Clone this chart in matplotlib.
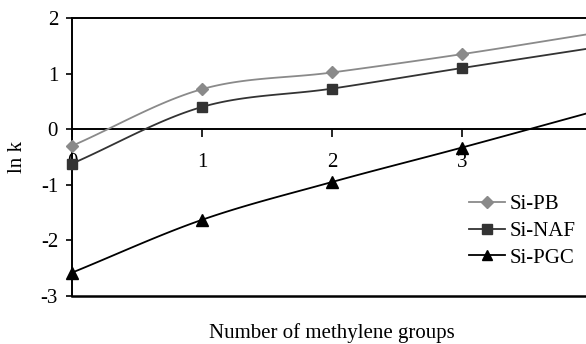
import numpy as np
import matplotlib
matplotlib.use("Agg")
import matplotlib.pyplot as plt
from matplotlib.lines import Line2D

plt.rcParams['font.family'] = ['Liberation Serif', 'DejaVu Serif']

x_groups = [0, 1, 2, 3, 4]
si_pb = [-0.30, 0.72, 1.02, 1.35, 1.72]
si_naf = [-0.62, 0.40, 0.73, 1.10, 1.46]
si_pgc = [-2.58, -1.63, -0.95, -0.33, 0.31]
series_names = ['Si-PB', 'Si-NAF', 'Si-PGC']
y_ticks = [-3, -2, -1, 0, 1, 2]
x_ticks = [0, 1, 2, 3]


def smooth(xs, ys, n=30):
    xs = np.asarray(xs, float)
    ys = np.asarray(ys, float)
    P = np.column_stack([xs, ys])
    P = np.vstack([P[0] - (P[1] - P[0]), P, P[-1] + (P[-1] - P[-2])])
    out = []
    t = np.linspace(0, 1, n)[:, None]
    for i in range(1, len(P) - 2):
        p0, p1, p2, p3 = P[i - 1], P[i], P[i + 1], P[i + 2]
        c1 = p1 + (p2 - p0) / 6
        c2 = p2 - (p3 - p1) / 6
        seg = ((1 - t) ** 3) * p1 + 3 * ((1 - t) ** 2) * t * c1 + 3 * (1 - t) * t ** 2 * c2 + t ** 3 * p2
        out.append(seg if i == 1 else seg[1:])
    out = np.vstack(out)
    return out[:, 0], out[:, 1]


W, H = 586, 344
fig = plt.figure(figsize=(W / 100, H / 100), dpi=100)
ax = fig.add_axes([72 / W, (H - 296) / H, (592 - 72) / W, (296 - 18) / H])

styles = [
    dict(color='#8a8a8a', marker='D', ms=6.5),
    dict(color='#333333', marker='s', ms=7.5),
    dict(color='#000000', marker='^', ms=8),
]
for name, ys, st in zip(series_names, [si_pb, si_naf, si_pgc], styles):
    sx, sy = smooth(x_groups, ys)
    ax.plot(sx, sy, color=st['color'], lw=1.3, zorder=3, clip_on=False)
    ax.plot(x_groups, ys, linestyle='none', marker=st['marker'], ms=st['ms'],
            color=st['color'], zorder=4, clip_on=False)

ax.set_xlim(0, 4)
ax.set_ylim(-3, 2)

ax.spines['right'].set_visible(False)
ax.spines['bottom'].set_position(('data', 0))
for s in ['left', 'top', 'bottom']:
    ax.spines[s].set_linewidth(1.4)
    ax.spines[s].set_color('black')
ax.axhline(-3, color='black', lw=1.8, zorder=2, clip_on=False)

ax.set_yticks(y_ticks)
ax.set_yticklabels([str(v) for v in y_ticks])
ax.set_xticks(x_ticks)
ax.set_xticklabels([str(v) for v in x_ticks])
ax.tick_params(axis='y', direction='out', length=4, width=1.2, labelsize=15, pad=6)
ax.tick_params(axis='x', direction='out', length=6, width=1.2, labelsize=15, pad=11)
ax.set_facecolor('white')

fig.text(18 / W, 1 - 157 / H, 'ln k', rotation=90, ha='center', va='center', fontsize=15)
fig.text(332 / W, 1 - 333 / H, 'Number of methylene groups', ha='center', va='center', fontsize=15)

handles = [Line2D([0], [0], color=st['color'], lw=1.3, marker=st['marker'], ms=st['ms'] * 0.9)
           for st in styles]
leg = fig.legend(handles, series_names, loc='center left', bbox_to_anchor=(459 / W, 1 - 231 / H),
                 frameon=False, fontsize=15, handlelength=1.7, handletextpad=0.25,
                 labelspacing=0.35, borderpad=0)

fig.savefig('out.png', dpi=100)
